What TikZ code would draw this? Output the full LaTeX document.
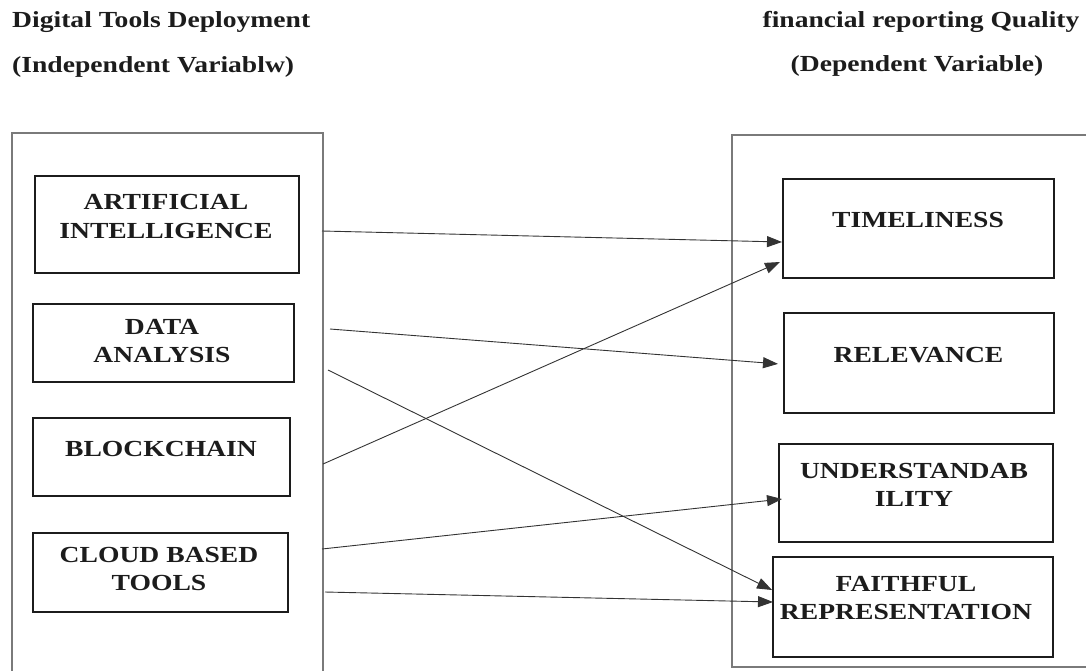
\documentclass[tikz,border=0pt]{standalone}
\usepackage{fontspec}
\setmainfont{Liberation Serif}[FakeStretch=1.2]
\usetikzlibrary{arrows.meta,calc}
\definecolor{ink}{HTML}{1C1C1C}
\definecolor{frame}{HTML}{7A7A7A}
\begin{document}
\begin{tikzpicture}[x=1pt,y=-1pt,
  inbox/.style={draw=ink,line width=1.8pt,rectangle,anchor=north west,inner sep=0pt},
  lbl/.style={font=\fontsize{23}{28.5}\selectfont\bfseries,text=ink,align=center,inner sep=0pt,anchor=center},
  hdr/.style={font=\fontsize{23}{28}\selectfont\bfseries,text=ink,inner sep=0pt},
  conn/.style={draw=ink!90,line width=0.9pt,-{Triangle[length=15pt,width=11pt]}},
  outer/.style={draw=frame,line width=1.4pt}]
\useasboundingbox (0,0) rectangle (1086,670);
% headers
\node[hdr,anchor=base west] (h1) at (12,27) {Digital Tools Deployment};
\node[hdr,anchor=base west] (h2) at (12,72) {(Independent Variablw)};
\node[hdr,anchor=base] (h3) at (921,27) {financial reporting Quality};
\node[hdr,anchor=base] (h4) at (917,71) {(Dependent Variable)};
% outer frames
\draw[outer] (12,672) -- (12,133) -- (323,133) -- (323,672);
\draw[outer] (1088,135) -- (732,135) -- (732,667) -- (1088,667);
% left boxes
\node[inbox,minimum width=264pt,minimum height=97pt] (ai) at (34,175) {};
\node[inbox,minimum width=261pt,minimum height=78pt] (da) at (32,303) {};
\node[inbox,minimum width=257pt,minimum height=78pt] (bc) at (32,417) {};
\node[inbox,minimum width=255pt,minimum height=79pt] (cb) at (32,532) {};
% right boxes
\node[inbox,minimum width=271pt,minimum height=99pt] (tim) at (782,178) {};
\node[inbox,minimum width=270pt,minimum height=100pt] (rel) at (783,312) {};
\node[inbox,minimum width=274pt,minimum height=98pt] (und) at (778,443) {};
\node[inbox,minimum width=280pt,minimum height=100pt] (fai) at (772,556) {};
% labels
\node[lbl] (ait) at (166,216.5) {ARTIFICIAL\\INTELLIGENCE};
\node[lbl] (dat) at (162,341) {DATA\\ANALYSIS};
\node[lbl] (bct) at (161,449) {BLOCKCHAIN};
\node[lbl] (cbt) at (159,569) {CLOUD BASED\\TOOLS};
\node[lbl] (timt) at (918,220) {TIMELINESS};
\node[lbl] (relt) at (918.5,355) {RELEVANCE};
\node[lbl] (undt) at (914,485) {UNDERSTANDAB\\ILITY};
\node[lbl] (fait) at (906,598) {FAITHFUL\\REPRESENTATION};
% connector start points (on the left frame)
\coordinate (s1) at (322,231);
\coordinate (s2) at (330,329);
\coordinate (s3) at (328,370);
\coordinate (s4) at (323,464);
\coordinate (s5) at (322,549);
\coordinate (s6) at (325,592);
% connectors
\draw[conn] (s1) -- ([yshift=-64pt]tim.north west);
\draw[conn] (s2) -- ([xshift=-5pt,yshift=-1pt]rel.west);
\draw[conn] (s3) -- ([yshift=-34pt]fai.north west);
\draw[conn] (s4) -- ([xshift=-2pt,yshift=-84pt]tim.north west);
\draw[conn] (s5) -- ([xshift=4pt,yshift=-56pt]und.north west);
\draw[conn] (s6) -- ([xshift=1pt,yshift=-46pt]fai.north west);
\end{tikzpicture}
\end{document}
